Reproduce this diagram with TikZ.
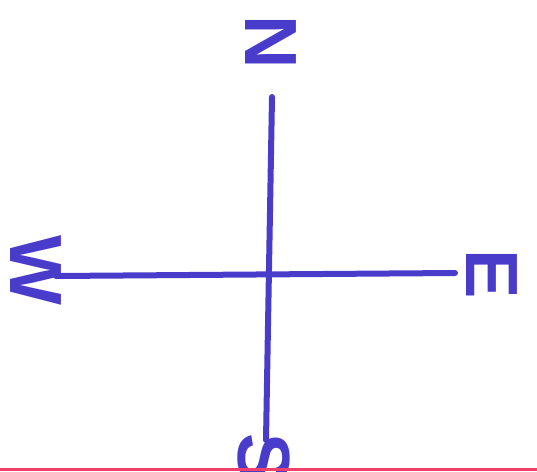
\documentclass[tikz,border=0pt]{standalone}
\usepackage{fontspec}
\setmainfont{Liberation Sans}
\begin{document}
\begin{tikzpicture}[x=1pt,y=-1pt,
  ink/.style={draw=inkc,line width=6pt,line cap=round},
  letter/.style={text=inkc,font=\fontsize{74}{74}\selectfont\bfseries,rotate=-90,inner sep=0pt}]
\definecolor{inkc}{HTML}{4A3CCB}
\definecolor{redc}{HTML}{F0406A}
\useasboundingbox (0,0) rectangle (537,471);
\clip (0,0) rectangle (537,471);
\coordinate (top) at (272,97);
\coordinate (bot) at (266,440);
\coordinate (left) at (56,276);
\coordinate (right) at (455,273);
\draw[ink] (top) -- (bot);
\draw[ink] (left) -- (right);
\node[letter] (N) at (271,42) {N};
\node[letter] (W) at (36,270) {W};
\node[letter] (E) at (492,274) {E};
\node[letter] (S) at (264,458) {S};
\coordinate (rl) at (0,469.5);
\coordinate (rr) at (537,469.5);
\draw[draw=redc,line width=3pt] (rl) -- (rr);
\end{tikzpicture}
\end{document}
